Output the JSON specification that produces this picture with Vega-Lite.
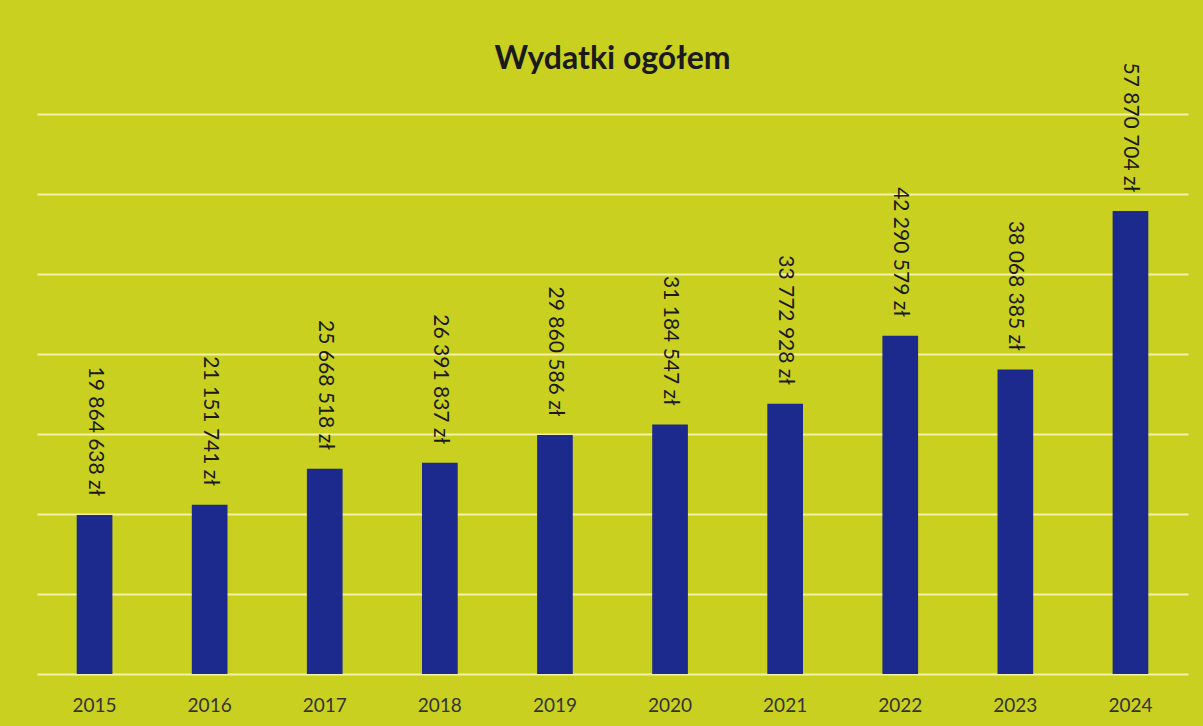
{
  "$schema": "https://vega.github.io/schema/vega-lite/v6.json",
  "width": 1151,
  "height": 560,
  "autosize": {"type": "none"},
  "padding": {"left": 37, "top": 114, "right": 15, "bottom": 52},
  "background": "#c9d01f",
  "title": {"text": "Wydatki ogółem", "fontSize": 32, "font": "Lato", "fontWeight": "bold", "color": "#1a1a1a", "offset": -14},
  "config": {
    "locale": {"number": {"decimal": ",", "thousands": " ", "grouping": [3], "currency": ["", " zł"]}},
    "view": {"stroke": null},
    "font": "Lato"
  },
  "data": {"values": [
    {"rok": "2015", "wydatki": 19864638},
    {"rok": "2016", "wydatki": 21151741},
    {"rok": "2017", "wydatki": 25668518},
    {"rok": "2018", "wydatki": 26391837},
    {"rok": "2019", "wydatki": 29860586},
    {"rok": "2020", "wydatki": 31184547},
    {"rok": "2021", "wydatki": 33772928},
    {"rok": "2022", "wydatki": 42290579},
    {"rok": "2023", "wydatki": 38068385},
    {"rok": "2024", "wydatki": 57870704}
  ]},
  "encoding": {
    "x": {"field": "rok", "type": "nominal", "sort": null,
      "scale": {"paddingInner": 0.69, "paddingOuter": 0.345},
      "axis": {"title": null, "labelAngle": 0, "ticks": false, "domain": false, "labelFontSize": 19, "labelColor": "#333333", "labelPadding": 22, "labelFont": "Lato"}},
    "y": {"field": "wydatki", "type": "quantitative",
      "scale": {"domain": [0, 70000000], "nice": false},
      "axis": {"title": null, "labels": false, "ticks": false, "domain": false, "values": [0,10000000,20000000,30000000,40000000,50000000,60000000,70000000], "gridColor": "#f3f1a4", "gridWidth": 2, "gridOpacity": 1}}
  },
  "layer": [
    {"mark": {"type": "bar", "color": "#1c2a8e"}},
    {"mark": {"type": "text", "angle": 90, "align": "right", "baseline": "middle", "dx": -19, "fontSize": 21, "color": "#1a1a1a"},
     "encoding": {"text": {"field": "wydatki", "type": "quantitative", "format": "$,.0f"}}}
  ]
}
